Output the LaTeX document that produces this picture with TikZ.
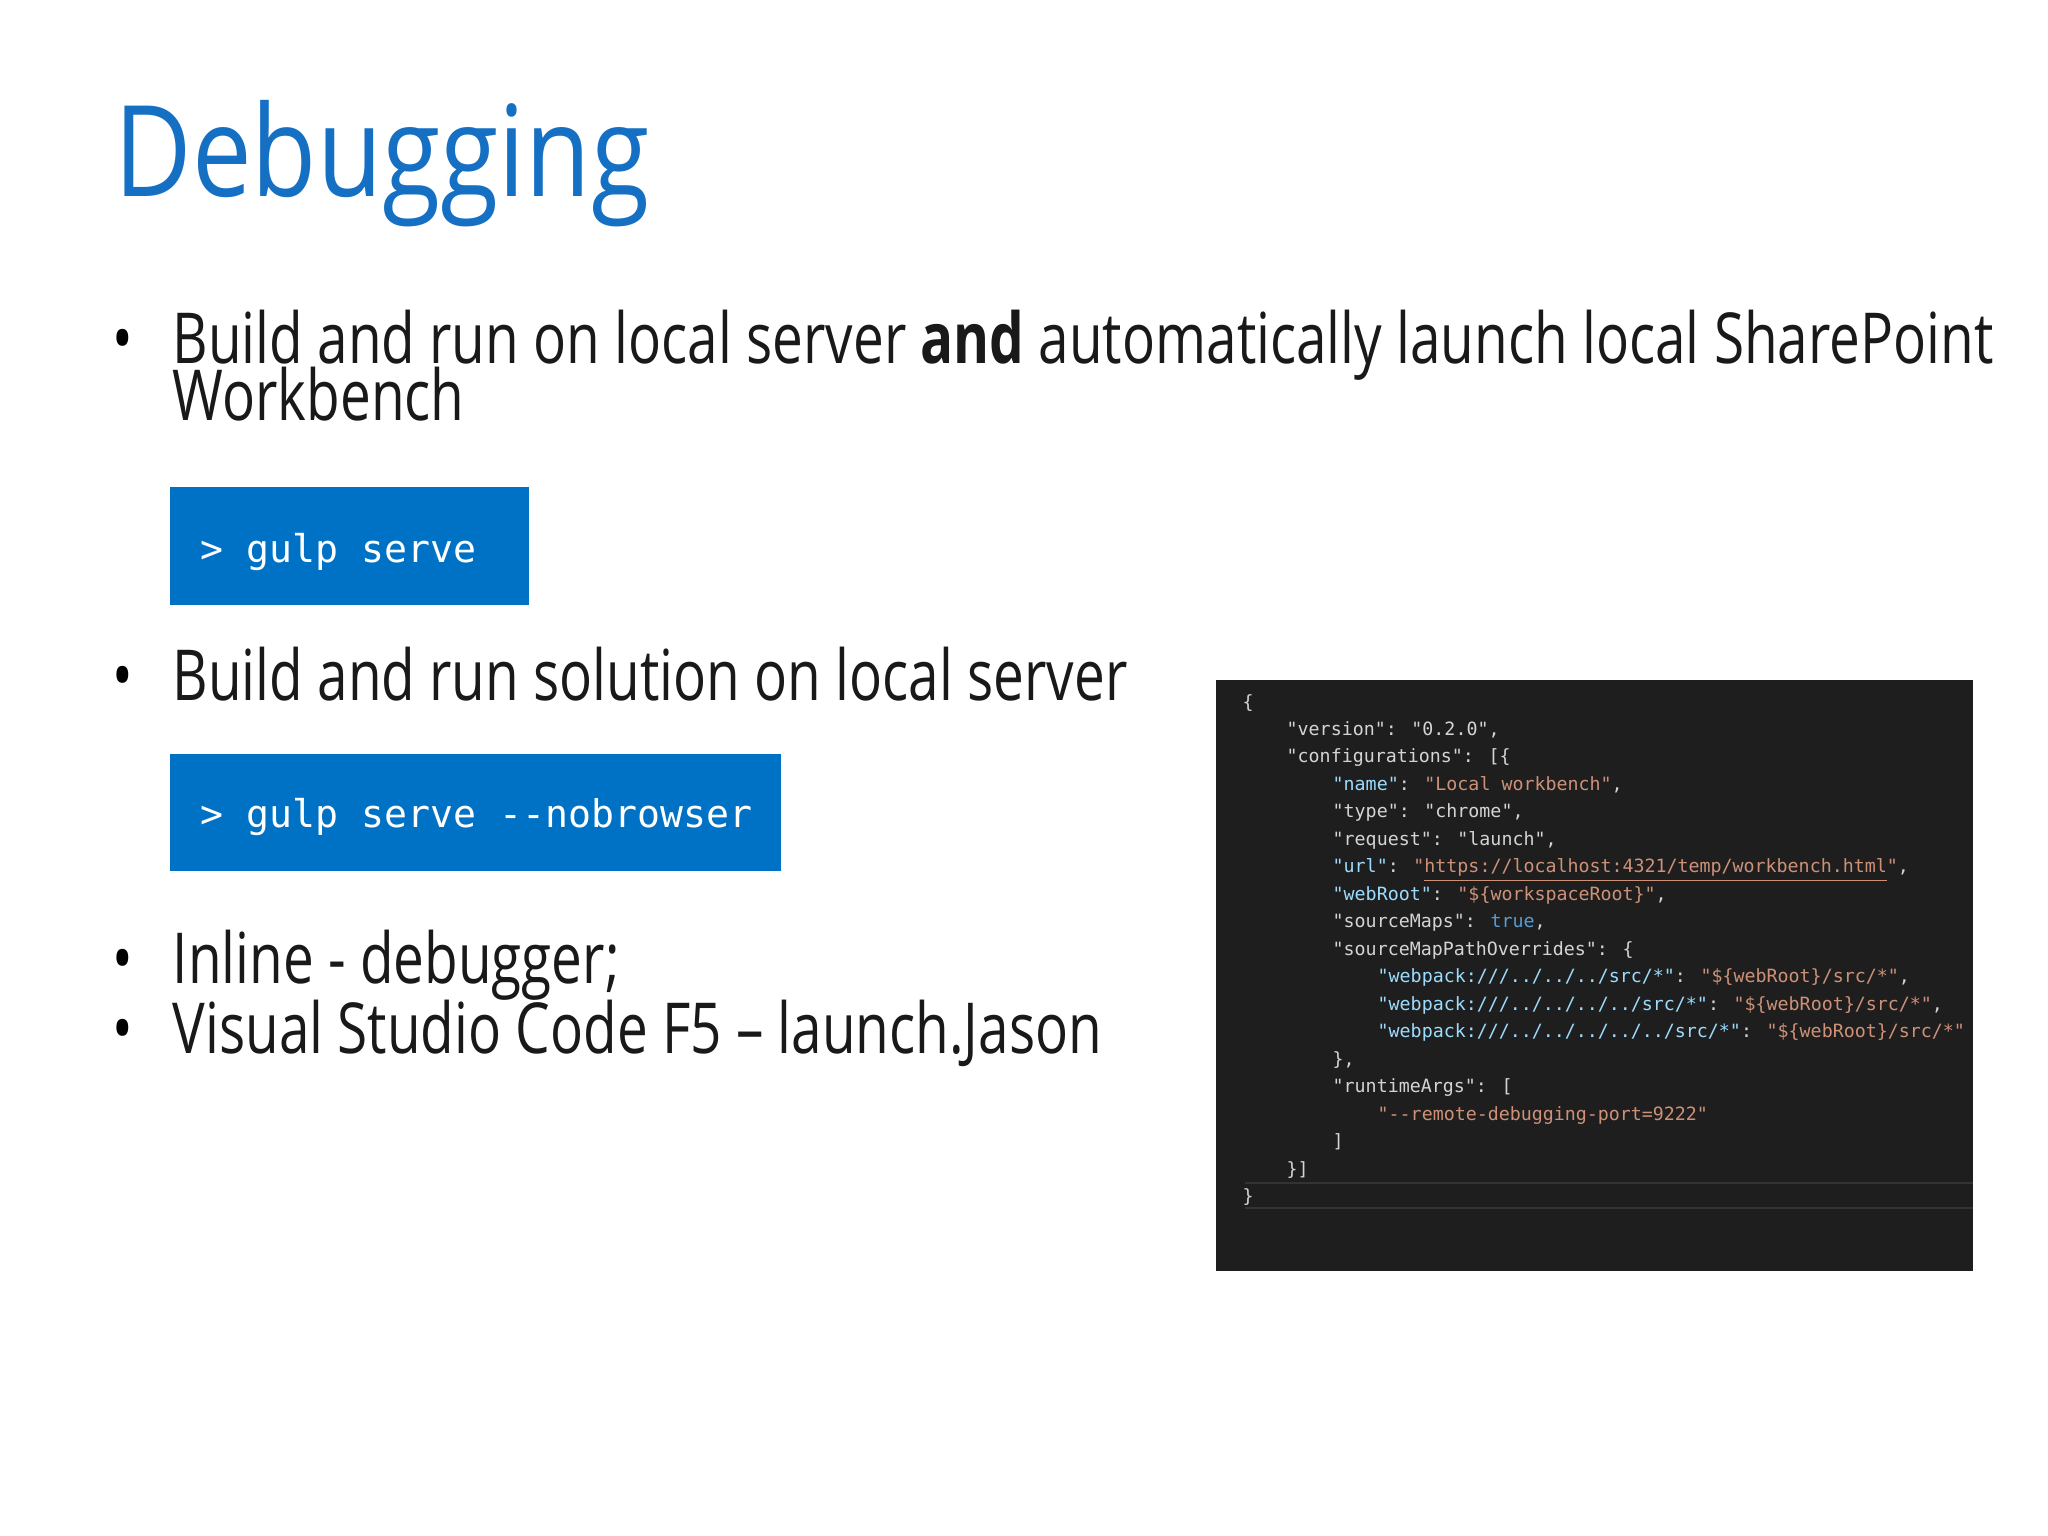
\documentclass[tikz,border=0pt]{standalone}
\usepackage{fontspec}
\setmainfont[FakeStretch=0.78]{Open Sans}
\newfontfamily\titlefont[FakeStretch=0.84]{Open Sans}
\newfontfamily\codefont{DejaVu Sans Mono}
\definecolor{msblue}{HTML}{0072C6}
\definecolor{titleblue}{HTML}{1570C4}
\definecolor{codebg}{HTML}{1E1E1E}
\definecolor{ckey}{HTML}{9CDCFE}
\definecolor{cstr}{HTML}{CE9178}
\definecolor{cpun}{HTML}{D4D4D4}
\definecolor{ctrue}{HTML}{569CD6}
\newcommand{\ck}[1]{\textcolor{ckey}{#1}}
\newcommand{\cstr}[1]{\textcolor{cstr}{#1}}
\tikzset{
  bodytext/.style={anchor=base west,font=\fontsize{20}{24}\selectfont,text=black!90,inner sep=0pt},
  bul/.style={anchor=base west,font=\fontsize{20}{24}\selectfont,inner sep=0pt},
  cmdbox/.style={fill=msblue,draw=none},
  cmdtext/.style={anchor=base west,font=\codefont\fontsize{10.85}{12}\selectfont,text=white,inner sep=0pt},
  codeline/.style={anchor=base west,font=\codefont\fontsize{5.2}{6}\selectfont,text=cpun,inner sep=0pt},
}
\begin{document}
\begin{tikzpicture}[x=0.01cm,y=-0.01cm]
\useasboundingbox[fill=white] (0,0) rectangle (2048,1536);
\node[anchor=base west,inner sep=0pt,text=titleblue,font=\titlefont\fontsize{36}{40}\selectfont] (title) at (114,196) {Debugging};
% bullets
\node[bul] (b1) at (112,363) {•};
\node[bodytext] (t1a) at (172,363) {Build and run on local server \textbf{and} automatically launch local SharePoint};
\node[bodytext] (t1b) at (172,420) {Workbench};
\fill[cmdbox] (170,487) rectangle (529,605);
\node[cmdtext] (c1) at (200,562) {> gulp serve};
\node[bul] (b2) at (112,700) {•};
\node[bodytext] (t2) at (172,700) {Build and run solution on local server};
\fill[cmdbox] (170,754) rectangle (781,871);
\node[cmdtext] (c2) at (200,827) {> gulp serve --nobrowser};
\node[bul] (b3) at (112,983) {•};
\node[bodytext] (t3) at (172,983) {Inline - debugger;};
\node[bul] (b4) at (112,1053) {•};
\node[bodytext] (t4) at (172,1053) {Visual Studio Code F5 – launch.Jason};
% code panel
\fill[codebg] (1216,680) rectangle (1973,1271);
\draw[color=black!80!white,line width=0.6pt] (1245,1183) -- (1973,1183);
\draw[color=black!80!white,line width=0.6pt] (1245,1208) -- (1973,1208);
\node[codeline] (l0) at (1242,708) {\{};
\node[codeline] (l1) at (1286,735) {"version": "0.2.0",};
\node[codeline] (l2) at (1286,762) {"configurations": [\{};
\node[codeline] (l3) at (1332,790) {\ck{"name"}: \cstr{"Local workbench"},};
\node[codeline] (l4) at (1332,817) {"type": "chrome",};
\node[codeline] (l5) at (1332,845) {"request": "launch",};
\node[codeline] (l6) at (1332,872) {\ck{"url"}: \cstr{"\underline{https://localhost:4321/temp/workbench.html}"},};
\node[codeline] (l7) at (1332,900) {\ck{"webRoot"}: \cstr{"\$\{workspaceRoot\}"},};
\node[codeline] (l8) at (1332,927) {"sourceMaps": \textcolor{ctrue}{true},};
\node[codeline] (l9) at (1332,955) {"sourceMapPathOverrides": \{};
\node[codeline] (l10) at (1377,982) {\ck{"webpack:///../../../src/*"}: \cstr{"\$\{webRoot\}/src/*"},};
\node[codeline] (l11) at (1377,1010) {\ck{"webpack:///../../../../src/*"}: \cstr{"\$\{webRoot\}/src/*"},};
\node[codeline] (l12) at (1377,1037) {\ck{"webpack:///../../../../../src/*"}: \cstr{"\$\{webRoot\}/src/*"}};
\node[codeline] (l13) at (1332,1065) {\},};
\node[codeline] (l14) at (1332,1092) {"runtimeArgs": [};
\node[codeline] (l15) at (1377,1120) {\cstr{"--remote-debugging-port=9222"}};
\node[codeline] (l16) at (1332,1147) {]};
\node[codeline] (l17) at (1286,1175) {\}]};
\node[codeline] (l18) at (1242,1202) {\}};
\end{tikzpicture}
\end{document}
